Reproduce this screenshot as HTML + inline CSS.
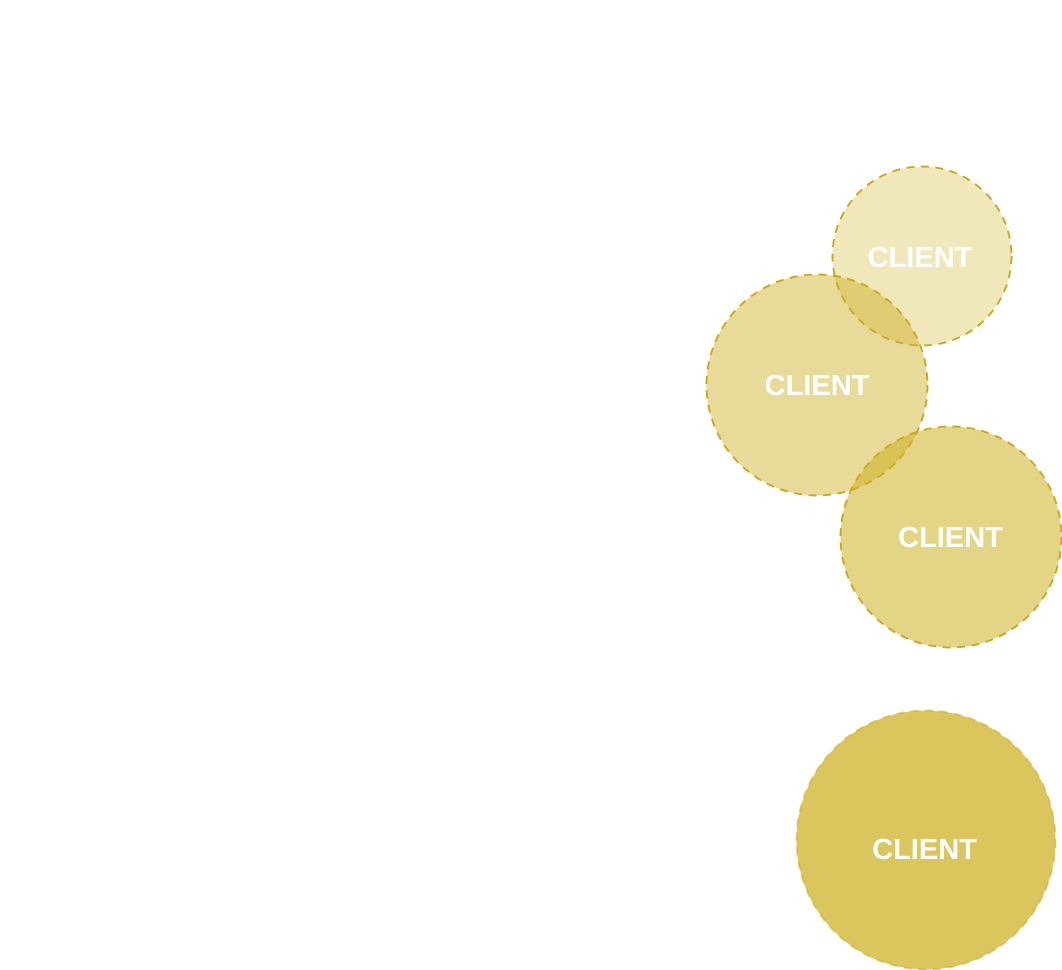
<!DOCTYPE html>
<html>
<head>
<meta charset="utf-8">
<style>
  html, body { margin: 0; padding: 0; background: #ffffff; }
  body { width: 1062px; height: 970px; overflow: hidden; }
  svg { display: block; }
  text { font-family: "Liberation Sans", sans-serif; font-weight: bold; font-size: 29px; fill: #ffffff; }
</style>
</head>
<body>
<svg width="1062" height="970" viewBox="0 0 1062 970" xmlns="http://www.w3.org/2000/svg">
  <g stroke="#cca623" stroke-width="1.9" stroke-dasharray="8 6.5">
    <circle cx="922" cy="256" r="89.5" fill="rgb(205,175,30)" fill-opacity="0.3"/>
    <circle cx="817" cy="385" r="110.5" fill="rgb(205,175,30)" fill-opacity="0.46"/>
    <circle cx="951" cy="537" r="110.5" fill="rgb(205,175,30)" fill-opacity="0.54"/>
    <circle cx="926" cy="840" r="129.5" fill="rgb(205,175,30)" fill-opacity="0.72" stroke-opacity="0.5"/>
  </g>
  <text x="920" y="267" text-anchor="middle">CLIENT</text>
  <text x="817" y="395" text-anchor="middle">CLIENT</text>
  <text x="950.5" y="547" text-anchor="middle">CLIENT</text>
  <text x="924.5" y="859" text-anchor="middle">CLIENT</text>
</svg>
</body>
</html>
